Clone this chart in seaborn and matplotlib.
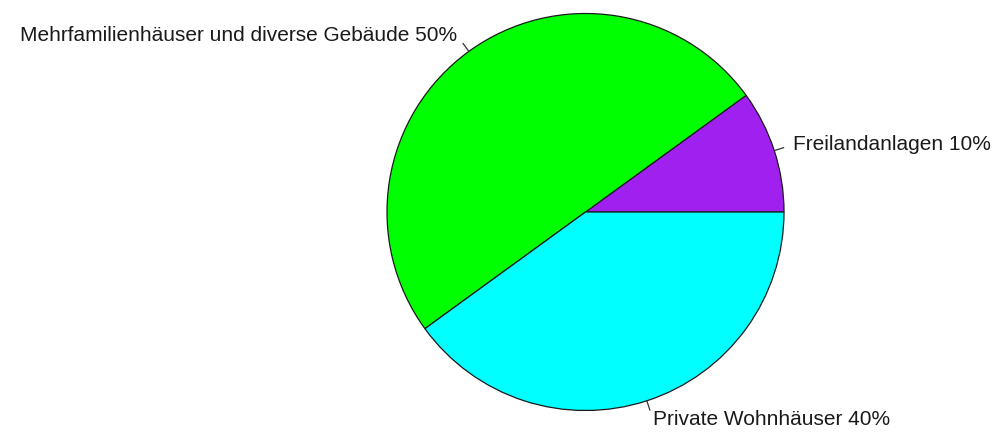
import numpy as np
import matplotlib
matplotlib.use("Agg")
import matplotlib.pyplot as plt
import seaborn as sns

# Anteile nach Gebäudetyp
categories = ["Freilandanlagen", "Mehrfamilienhäuser und diverse Gebäude", "Private Wohnhäuser"]
shares = [10, 50, 40]
colors = ["#A020F0", "#00FF00", "#00FFFF"]

sns.set_theme(style="white")
plt.rcParams["font.family"] = ["Liberation Sans", "DejaVu Sans"]

W, H = 996, 433
fig = plt.figure(figsize=(W / 100, H / 100), dpi=100)
ax = fig.add_axes([0, 0, 1, 1])
ax.set_xlim(0, W)
ax.set_ylim(0, H)
ax.set_aspect("equal")
ax.axis("off")

cx, cy, r = 585.5, H - 212, 198.5
wedges, _ = ax.pie(
    shares, colors=colors, startangle=0, counterclock=True,
    center=(cx, cy), radius=r, frame=True,
    wedgeprops=dict(edgecolor="#1a1a1a", linewidth=0.9),
)
ax.set_xlim(0, W)
ax.set_ylim(0, H)
ax.axis("off")

labels = [f"{c} {v}%" for c, v in zip(categories, shares)]
for w, lab in zip(wedges, labels):
    mid = np.deg2rad((w.theta1 + w.theta2) / 2)
    dx, dy = np.cos(mid), np.sin(mid)
    ax.plot([cx + r * dx, cx + 1.05 * r * dx], [cy + r * dy, cy + 1.05 * r * dy],
            color="#333333", lw=0.9)
    ax.text(cx + 1.1 * r * dx, cy + 1.1 * r * dy, lab,
            ha="left" if dx > 0 else "right", va="center",
            fontsize=15, color="#1a1a1a")

fig.savefig("out.png", dpi=100, facecolor="white")
